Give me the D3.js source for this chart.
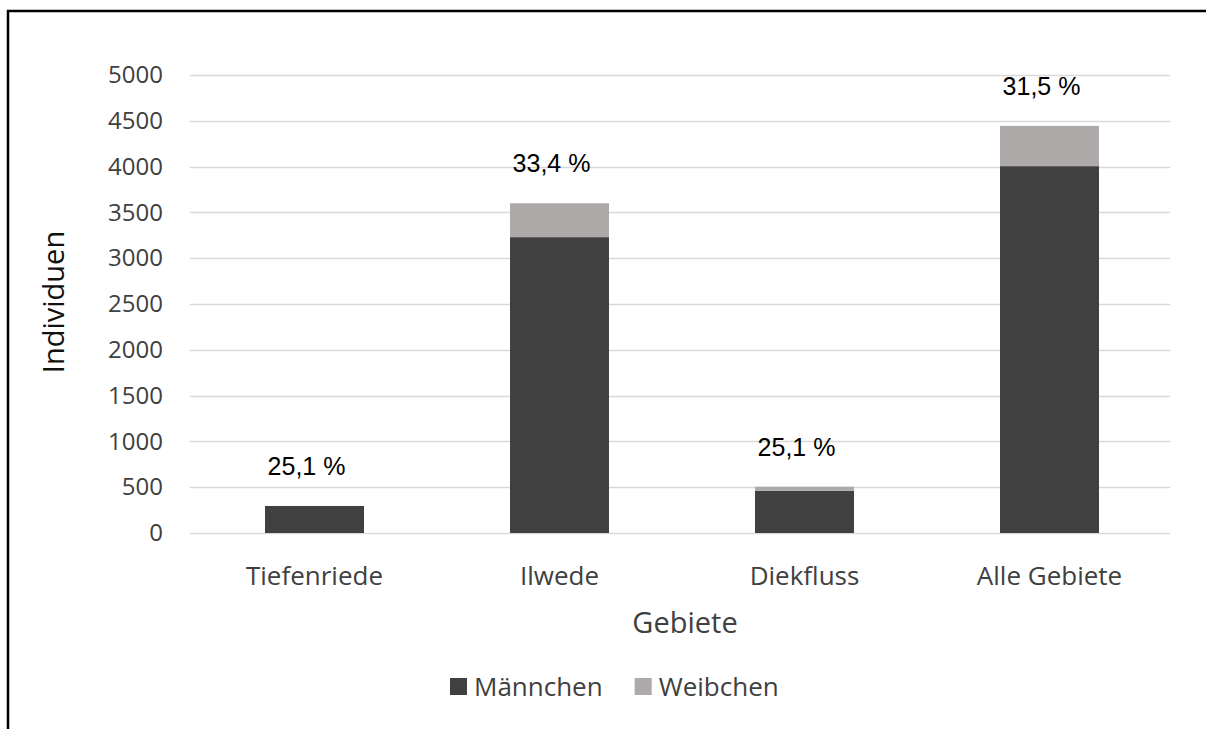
<!DOCTYPE html>
<html><head><meta charset="utf-8">
<script src="https://cdn.jsdelivr.net/npm/d3@7"></script>
<style>html,body{margin:0;padding:0;background:#fff;overflow:hidden}svg{display:block}</style>
</head><body>
<svg id="c" width="1206" height="729"></svg>
<script>
const categories = ["Tiefenriede", "Ilwede", "Diekfluss", "Alle Gebiete"];
const maennchen = [295, 3230, 460, 4005];
const weibchen = [0, 370, 45, 440];
const percentLabels = ["25,1 %", "33,4 %", "25,1 %", "31,5 %"];
const seriesNames = ["Männchen", "Weibchen"];
const yTicks = [0, 500, 1000, 1500, 2000, 2500, 3000, 3500, 4000, 4500, 5000];
const colors = ["#404040", "#aeaaaa"];

const svg = d3.select("#c");
const font = "'Open Sans', sans-serif";
const textCol = "#404040";
const m = {left: 192, right: 1172, top: 75, bottom: 533};

// frame (left and top edges only)
svg.append("line").attr("x1", 8).attr("x2", 8).attr("y1", 10).attr("y2", 729).attr("stroke", "#000").attr("stroke-width", 2.5);
svg.append("line").attr("x1", 7).attr("x2", 1206).attr("y1", 11).attr("y2", 11).attr("stroke", "#000").attr("stroke-width", 2.5);

const x = d3.scaleBand().domain(categories).range([m.left, m.right]).paddingInner(0.596).paddingOuter(0.298);
const y = d3.scaleLinear().domain([0, 5000]).range([m.bottom, m.top]);

// gridlines
svg.append("g").selectAll("line").data(yTicks).join("line")
  .attr("x1", m.left - 2).attr("x2", m.right - 2)
  .attr("y1", d => Math.round(y(d)) + 0.5).attr("y2", d => Math.round(y(d)) + 0.5)
  .attr("stroke", "#d9d9d9").attr("stroke-width", 1.3);

// y axis labels
const yAxis = d3.axisLeft(y).tickValues(yTicks).tickSize(0).tickPadding(0).tickFormat(d3.format("d"));
const gy = svg.append("g").attr("transform", `translate(${163},0)`).call(yAxis);
gy.select(".domain").remove();
gy.selectAll("text").attr("font-family", font).attr("font-size", 24).attr("fill", textCol);

// stacked bars
const data = categories.map((c, i) => ({cat: c, "Männchen": maennchen[i], "Weibchen": weibchen[i]}));
const stack = d3.stack().keys(seriesNames)(data);
svg.append("g").selectAll("g").data(stack).join("g").attr("fill", (d, i) => colors[i])
  .selectAll("rect").data(d => d).join("rect")
  .attr("x", d => x(d.data.cat)).attr("width", x.bandwidth())
  .attr("y", d => y(d[1])).attr("height", d => y(d[0]) - y(d[1]));

// percent labels
svg.append("g").selectAll("text").data(categories).join("text")
  .attr("x", d => x(d) + x.bandwidth() / 2 - 8)
  .attr("y", (d, i) => y(maennchen[i] + weibchen[i]) - 31)
  .attr("text-anchor", "middle").attr("font-family", "'Liberation Sans', Arial, sans-serif")
  .attr("font-size", 25).attr("fill", "#000").text((d, i) => percentLabels[i]);

// x axis labels
const xAxis = d3.axisBottom(x).tickSize(0).tickPadding(0);
const gx = svg.append("g").attr("transform", `translate(0,${585})`).call(xAxis);
gx.select(".domain").remove();
gx.selectAll("text").attr("dy", 0).attr("font-family", font).attr("font-size", 26).attr("fill", textCol);

// axis titles
svg.append("text").attr("x", 685).attr("y", 633).attr("text-anchor", "middle")
  .attr("font-family", font).attr("font-size", 29).attr("fill", textCol).text("Gebiete");
svg.append("text").attr("transform", "translate(64,302) rotate(-90)").attr("text-anchor", "middle")
  .attr("font-family", font).attr("font-size", 29).attr("fill", "#111").text("Individuen");

// legend
const lg = svg.append("g");
let lx = 450;
seriesNames.forEach((name, i) => {
  lg.append("rect").attr("x", lx).attr("y", 678).attr("width", 17).attr("height", 17).attr("fill", colors[i]);
  const t = lg.append("text").attr("x", lx + 24).attr("y", 696).attr("font-family", font)
    .attr("font-size", 26).attr("fill", textCol).text(name);
  lx += 24 + t.node().getComputedTextLength() + 32;
});
</script>
</body></html>
